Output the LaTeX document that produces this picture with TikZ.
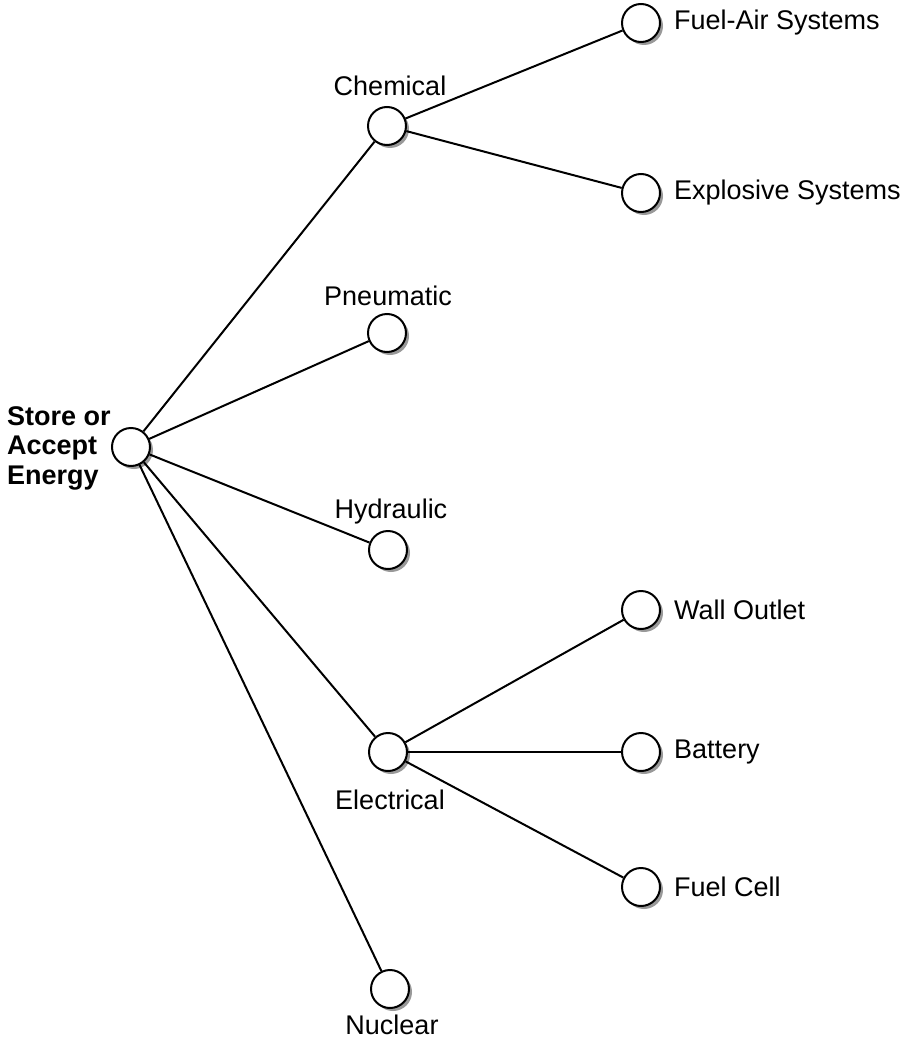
\documentclass[tikz,border=0pt]{standalone}
\usepackage{fontspec}
\setmainfont{Liberation Sans}
\usetikzlibrary{shadows}
\begin{document}
\begin{tikzpicture}[x=1pt,y=-1pt,
  dot/.style={circle,draw=black,line width=2pt,fill=white,minimum size=38pt,inner sep=0pt,
    drop shadow={shadow xshift=3pt,shadow yshift=-3pt,fill=black!40,opacity=1}},
  lbl/.style={inner sep=0pt,font=\fontsize{27}{30}\selectfont},
  link/.style={line width=2pt}]
\useasboundingbox (0,0) rectangle (904,1041);

% circles
\node[dot] (root) at (131,447) {};
\node[dot] (chem) at (387,126) {};
\node[dot] (fuelair) at (641,23) {};
\node[dot] (explo) at (641,193) {};
\node[dot] (pneu) at (387,333) {};
\node[dot] (hydr) at (388,550) {};
\node[dot] (elec) at (388,752) {};
\node[dot] (wall) at (641,610) {};
\node[dot] (batt) at (641,752) {};
\node[dot] (fcell) at (641,887) {};
\node[dot] (nucl) at (390,989) {};

% connectors
\draw[link] (root) -- (chem);
\draw[link] (root) -- (pneu);
\draw[link] (root) -- (hydr);
\draw[link] (root) -- (elec);
\draw[link] (root) -- (nucl);
\draw[link] (chem) -- (fuelair);
\draw[link] (chem) -- (explo);
\draw[link] (elec) -- (wall);
\draw[link] (elec) -- (batt);
\draw[link] (elec) -- (fcell);

% labels
\node[lbl,anchor=west,align=left,font=\fontsize{27}{29.5}\selectfont\bfseries] (rootlbl) at (7,448) {Store or\\Accept\\Energy};
\node[lbl] (chemlbl) at (390,86) {Chemical};
\node[lbl] (pneulbl) at (388,296) {Pneumatic};
\node[lbl] (hydrlbl) at (391,512) {Hydraulic};
\node[lbl] (eleclbl) at (390,800) {Electrical};
\node[lbl] (nucllbl) at (392,1025) {Nuclear};
\node[lbl,anchor=west] (falbl) at (674,23) {Fuel-Air Systems};
\node[lbl,anchor=west] (exlbl) at (674,193) {Explosive Systems};
\node[lbl,anchor=west] (walllbl) at (674,610) {Wall Outlet};
\node[lbl,anchor=west] (battlbl) at (674,752) {Battery};
\node[lbl,anchor=west] (fclbl) at (674,887) {Fuel Cell};
\end{tikzpicture}
\end{document}
